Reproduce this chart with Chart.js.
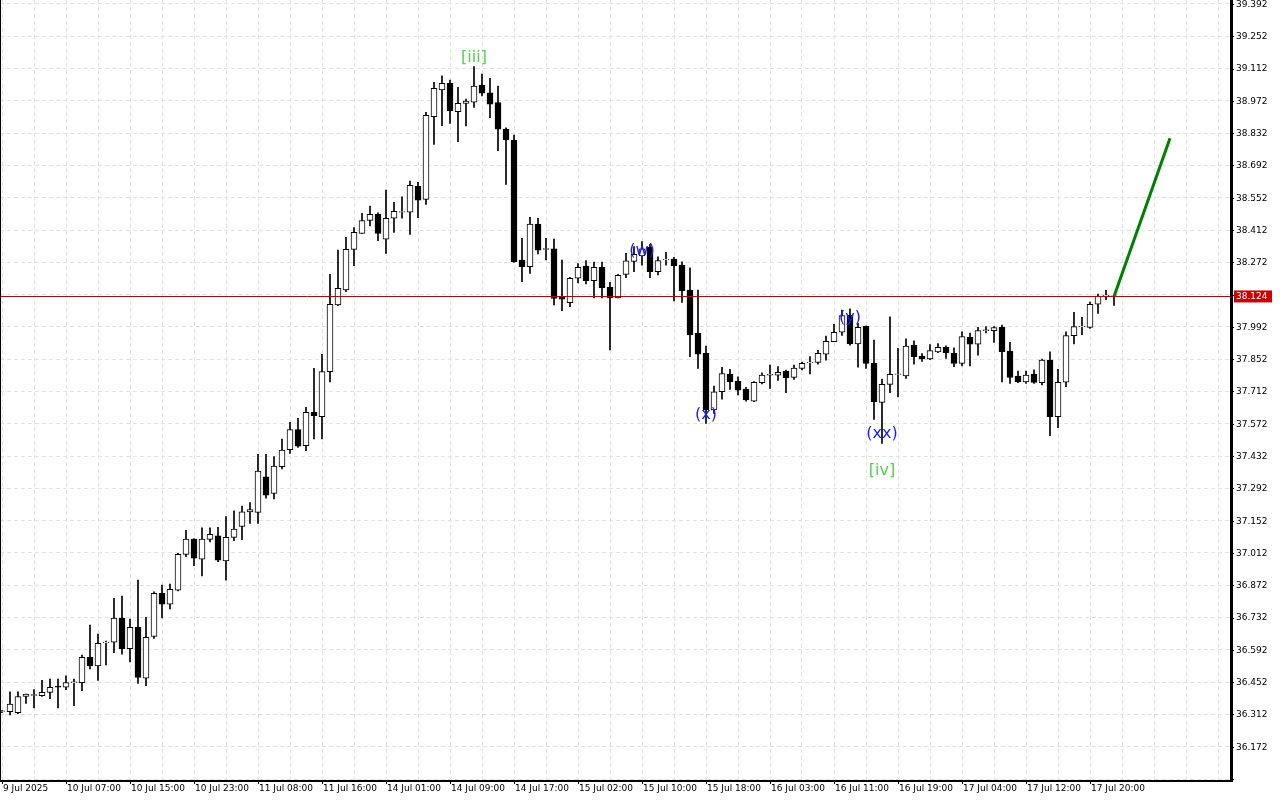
<!DOCTYPE html>
<html><head><meta charset="utf-8">
<script src="https://cdn.jsdelivr.net/npm/chart.js@4.4.1/dist/chart.umd.min.js"></script>
<style>html,body{margin:0;padding:0;background:#fff;overflow:hidden}canvas{display:block}</style>
</head><body>
<canvas id="c" width="1280" height="800"></canvas>
<script>
const opens=[36.325,36.324,36.32,36.39,36.395,36.393,36.408,36.435,36.43,36.45,36.45,36.56,36.523,36.623,36.625,36.73,36.597,36.69,36.469,36.65,36.837,36.79,36.851,37.006,37.072,36.985,37.071,37.086,36.978,37.08,37.127,37.19,37.188,37.342,37.27,37.386,37.46,37.547,37.477,37.622,37.603,37.798,38.087,38.152,38.328,38.397,38.454,38.48,38.372,38.463,38.489,38.489,38.601,38.545,38.903,39.019,39.048,38.925,38.961,38.966,39.04,39.007,38.964,38.85,38.802,38.282,38.253,38.438,38.328,38.33,38.12,38.097,38.203,38.256,38.192,38.25,38.163,38.118,38.22,38.276,38.30,38.337,38.231,38.282,38.286,38.26,38.152,37.964,37.877,37.632,37.711,37.788,37.757,37.722,37.67,37.75,37.783,37.783,37.801,37.773,37.812,37.837,37.838,37.874,37.928,37.969,38.043,37.918,37.996,37.834,37.665,37.743,37.786,37.779,37.913,37.866,37.853,37.884,37.903,37.877,37.834,37.947,37.917,37.976,37.976,37.99,37.887,37.779,37.754,37.787,37.75,37.848,37.603,37.752,37.954,37.993,37.99,38.09,38.127,38.124];
const highs=[36.33,36.41,36.41,36.40,36.42,36.46,36.465,36.465,36.48,36.465,36.57,36.70,36.66,36.63,36.815,36.825,36.725,36.895,36.733,36.844,36.873,36.877,37.01,37.11,37.075,37.121,37.121,37.123,37.17,37.195,37.215,37.23,37.44,37.44,37.43,37.506,37.578,37.596,37.643,37.812,37.873,38.22,38.325,38.38,38.422,38.484,38.516,38.486,38.585,38.532,38.556,38.624,38.619,38.922,39.052,39.08,39.062,39.03,38.98,39.12,39.088,39.069,39.036,38.855,38.824,38.376,38.467,38.463,38.376,38.373,38.282,38.207,38.267,38.279,38.273,38.273,38.185,38.22,38.311,38.34,38.362,38.35,38.296,38.315,38.294,38.274,38.248,38.152,37.909,37.736,37.817,37.808,37.776,37.73,37.755,37.793,37.827,37.82,37.805,37.826,37.84,37.863,37.89,37.952,38.003,38.065,38.07,38.007,37.996,37.935,37.766,38.036,37.899,37.94,37.932,37.876,37.915,37.92,37.91,37.901,37.971,37.965,37.99,37.993,37.993,38.0,37.925,37.8,37.80,37.806,37.852,37.884,37.808,37.971,38.055,38.034,38.10,38.134,38.15,38.124];
const lows=[36.32,36.31,36.315,36.36,36.34,36.39,36.38,36.34,36.42,36.35,36.415,36.51,36.46,36.527,36.58,36.573,36.54,36.447,36.437,36.642,36.731,36.77,36.848,36.996,36.957,36.913,37.06,36.974,36.894,37.065,37.07,37.14,37.14,37.25,37.246,37.376,37.444,37.47,37.455,37.506,37.506,37.754,38.084,38.145,38.257,38.397,38.43,38.366,38.31,38.402,38.463,38.393,38.465,38.523,38.783,38.864,38.874,38.795,38.863,38.943,38.993,38.899,38.756,38.61,38.272,38.188,38.224,38.308,38.282,38.087,38.062,38.08,38.183,38.178,38.118,38.118,37.892,38.118,38.205,38.231,38.26,38.205,38.217,38.26,38.105,38.098,37.863,37.812,37.574,37.617,37.679,37.721,37.697,37.67,37.668,37.745,37.725,37.76,37.707,37.764,37.805,37.788,37.83,37.848,37.928,37.955,37.913,37.818,37.812,37.591,37.487,37.707,37.689,37.769,37.83,37.842,37.85,37.88,37.855,37.82,37.823,37.823,37.87,37.966,37.925,37.754,37.747,37.75,37.747,37.747,37.74,37.52,37.555,37.733,37.918,37.958,37.985,38.05,38.11,38.085];
const closes=[36.325,36.357,36.39,36.40,36.395,36.408,36.43,36.43,36.45,36.45,36.56,36.523,36.62,36.623,36.73,36.597,36.69,36.473,36.646,36.837,36.79,36.855,37.006,37.072,36.99,37.072,37.093,36.981,37.08,37.116,37.19,37.2,37.367,37.263,37.389,37.458,37.547,37.475,37.622,37.607,37.798,38.09,38.159,38.328,38.402,38.453,38.48,38.397,38.463,38.493,38.489,38.606,38.541,38.909,39.026,39.048,38.929,38.961,38.971,39.036,39.005,38.957,38.849,38.802,38.275,38.253,38.438,38.325,38.328,38.116,38.112,38.203,38.25,38.192,38.25,38.162,38.118,38.216,38.278,38.307,38.33,38.231,38.279,38.282,38.257,38.149,37.957,37.874,37.632,37.711,37.79,37.755,37.718,37.675,37.752,37.783,37.783,37.795,37.772,37.813,37.834,37.837,37.877,37.93,37.969,38.041,37.918,37.99,37.834,37.668,37.743,37.786,37.786,37.909,37.863,37.853,37.889,37.903,37.88,37.834,37.95,37.917,37.976,37.976,37.989,37.885,37.773,37.754,37.783,37.751,37.848,37.603,37.752,37.954,37.993,37.993,38.09,38.126,38.127,38.124];
const xLabels=["9 Jul 2025","10 Jul 07:00","10 Jul 15:00","10 Jul 23:00","11 Jul 08:00","11 Jul 16:00","14 Jul 01:00","14 Jul 09:00","14 Jul 17:00","15 Jul 02:00","15 Jul 10:00","15 Jul 18:00","16 Jul 03:00","16 Jul 11:00","16 Jul 19:00","17 Jul 04:00","17 Jul 12:00","17 Jul 20:00"];
const yTicks=[36.032,36.172,36.312,36.452,36.592,36.732,36.872,37.012,37.152,37.292,37.432,37.572,37.712,37.852,37.992,38.132,38.272,38.412,38.552,38.692,38.832,38.972,39.112,39.252,39.392];
const yTickLabels=["","36.172","36.312","36.452","36.592","36.732","36.872","37.012","37.152","37.292","37.432","37.572","37.712","37.852","37.992","","38.272","38.412","38.552","38.692","38.832","38.972","39.112","39.252","39.392"];
const currentPrice=38.124;
const forecastX=[139,146];
const forecastY=[38.124,38.81];
const waveLabels=[
 {t:"[iii]",x:59,y:39.16,c:"#55d055"},
 {t:"(w)",x:80,y:38.32,c:"#1a1aff"},
 {t:"(x)",x:88,y:37.61,c:"#1a1aff"},
 {t:"(y)",x:106,y:38.03,c:"#1a1aff"},
 {t:"(xx)",x:110,y:37.53,c:"#1a1aff"},
 {t:"[iv]",x:110,y:37.37,c:"#55d055"}
];
const F="'DejaVu Sans', sans-serif";
const wicks=opens.map((o,i)=>({x:i,y:[lows[i],highs[i]]}));
const bodies=opens.map((o,i)=>({x:i,y:[o, Math.abs(closes[i]-o)<0.003 ? o+(closes[i]>=o?0.003:-0.003) : closes[i]]}));
const bodyFill=opens.map((o,i)=>closes[i]<o-0.002?'#000':'#fff');

const overlay={id:'overlay',
 afterDatasetsDraw(ch){
  const {ctx,scales:{x,y},chartArea:a}=ch;
  ctx.save();
  const py=Math.round(y.getPixelForValue(currentPrice))+0.5;
  ctx.strokeStyle='#9a1010';ctx.lineWidth=1;
  ctx.beginPath();ctx.moveTo(a.left,py);ctx.lineTo(a.right,py);ctx.stroke();
  ctx.font="16px "+F;ctx.textAlign='center';ctx.textBaseline='middle';
  waveLabels.forEach(w=>{ctx.fillStyle=w.c;ctx.fillText(w.t,x.getPixelForValue(w.x),y.getPixelForValue(w.y));});
  ctx.restore();
 },
 afterDraw(ch){
  const {ctx,scales:{x,y},chartArea:a}=ch;
  ctx.save();
  ctx.font="9px "+F;ctx.fillStyle='#000';ctx.textBaseline='middle';ctx.textAlign='left';
  yTicks.forEach((v,k)=>{const p=y.getPixelForValue(v);if(p<a.top||p>a.bottom)return;
    ctx.fillRect(a.right,Math.round(p),4,1); if(yTickLabels[k]) ctx.fillText(yTickLabels[k],a.right+6,p+0.5);});
  const py=y.getPixelForValue(currentPrice);
  ctx.fillStyle='#cc0000';ctx.fillRect(a.right+4,py-6,38,12);
  ctx.fillStyle='#fff';ctx.fillText(currentPrice.toFixed(3),a.right+6,py+0.5);
  ctx.fillStyle='#000';ctx.textBaseline='top';
  xLabels.forEach((t,k)=>{const p=x.getPixelForValue(k*8);ctx.fillRect(Math.round(p),a.bottom,1,4);ctx.fillText(t,p+1,a.bottom+4);});
  ctx.fillRect(a.right,0,3,a.bottom+2);
  ctx.fillRect(0,a.bottom,a.right+3,2);
  ctx.fillRect(0,0,1,a.bottom);
  ctx.restore();
 }};

new Chart(document.getElementById('c'),{
 type:'bar',
 data:{datasets:[
  {type:'line',data:forecastX.map((v,i)=>({x:v,y:forecastY[i]})),borderColor:'#008000',borderWidth:3,pointRadius:0,order:0},
  {data:bodies,backgroundColor:bodyFill,borderColor:'#000',borderWidth:1,borderSkipped:false,barThickness:6,grouped:false,order:1},
  {data:wicks,backgroundColor:'#000',borderWidth:0,barThickness:1,grouped:false,order:2}
 ]},
 options:{responsive:false,devicePixelRatio:1,animation:false,
  layout:{padding:{left:0,right:0,top:0,bottom:0}},
  plugins:{legend:{display:false},tooltip:{enabled:false}},
  scales:{
   x:{type:'linear',offset:false,min:-0.25,max:153.5,
     afterBuildTicks(s){s.ticks=[];for(let v=0;v<=152;v+=4)s.ticks.push({value:v});},
     afterFit(s){s.height=20;},
     ticks:{display:false},
     grid:{color:'#e2e2e2',lineWidth:1,tickLength:0,drawTicks:false,offset:false},
     border:{display:false,dash:[4,3]}},
   y:{position:'right',min:36.028,max:39.409,
     afterBuildTicks(s){s.ticks=yTicks.map(v=>({value:v}));},
     afterFit(s){s.width=50;},
     ticks:{display:false},
     grid:{color:'#e2e2e2',lineWidth:1,drawTicks:false},
     border:{display:false,dash:[4,3]}}
  }},
 plugins:[overlay]
});
</script>
</body></html>
